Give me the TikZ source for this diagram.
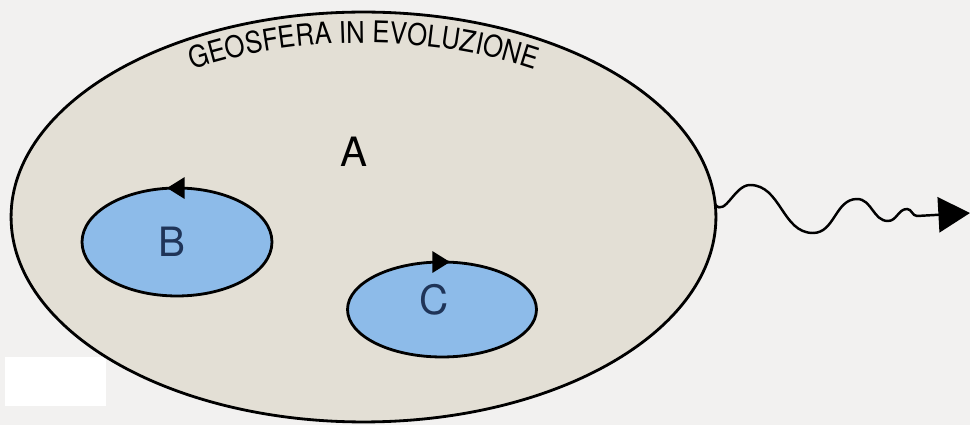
\documentclass[tikz,border=0pt]{standalone}
\usepackage{fontspec}
\setmainfont{TeX Gyre Heros}
\newfontfamily\geofont[FakeStretch=0.86]{TeX Gyre Heros}
\usetikzlibrary{shapes.geometric,arrows.meta,calc,decorations.text}
\definecolor{paper}{RGB}{242,241,240}
\definecolor{crust}{RGB}{227,223,213}
\definecolor{magma}{RGB}{141,187,233}
\definecolor{ink}{RGB}{31,52,88}

\begin{document}
\begin{tikzpicture}[x=0.02cm, y=-0.02cm,
  sphere/.style={ellipse, draw, line width=1.6pt, inner sep=0pt, outer sep=0pt},
  cell/.style={sphere, fill=magma},
  letter/.style={font=\fontsize{23}{27}\selectfont},
  flow/.style={-{Triangle[length=10pt,width=12pt]}, line width=1.6pt}]
\fill[paper] (0,0) rectangle (970,425);
\useasboundingbox (0,0) rectangle (970,425);
\fill[white] (5,357) rectangle (106,406);
\node[sphere, fill=crust, minimum width=14.1cm, minimum height=8.2cm] (geo) at (363.5,217) {};
\path[decorate, decoration={text along path, text align=center,
    text={|\geofont\fontsize{17}{20}\selectfont|GEOSFERA IN EVOLUZIONE}}]
  ($(geo.center)+(190:322 and 174)$) arc[start angle=190, end angle=350, x radius=322, y radius=174];
\node[letter] (a) at (354,152) {A};
\node[cell, minimum width=3.8cm, minimum height=2.16cm] (B) at (177,242) {};
\node[cell, minimum width=3.78cm, minimum height=1.9cm] (C) at (442,309.5) {};
\node[letter, text=ink] (b) at (172,242) {B};
\node[letter, text=ink] (c) at (434,300) {C};
\draw[flow] ($(B.north)+(14,0)$) -- ($(B.north)+(-10,0)$);
\draw[flow] ($(C.north)+(-14,0)$) -- ($(C.north)+(8,0)$);
\coordinate (tip) at (970,213);
\draw[line width=1.4pt, -{Triangle[length=18pt,width=20pt]}] (geo.2)
  to[out=-50,in=180] (750,185) to[out=0,in=180] (813,233)
  to[out=0,in=180] (857,199) to[out=0,in=180] (888,221)
  to[out=0,in=180] (907,209) to[out=0,in=180] (917,216) -- (tip);
\end{tikzpicture}
\end{document}
